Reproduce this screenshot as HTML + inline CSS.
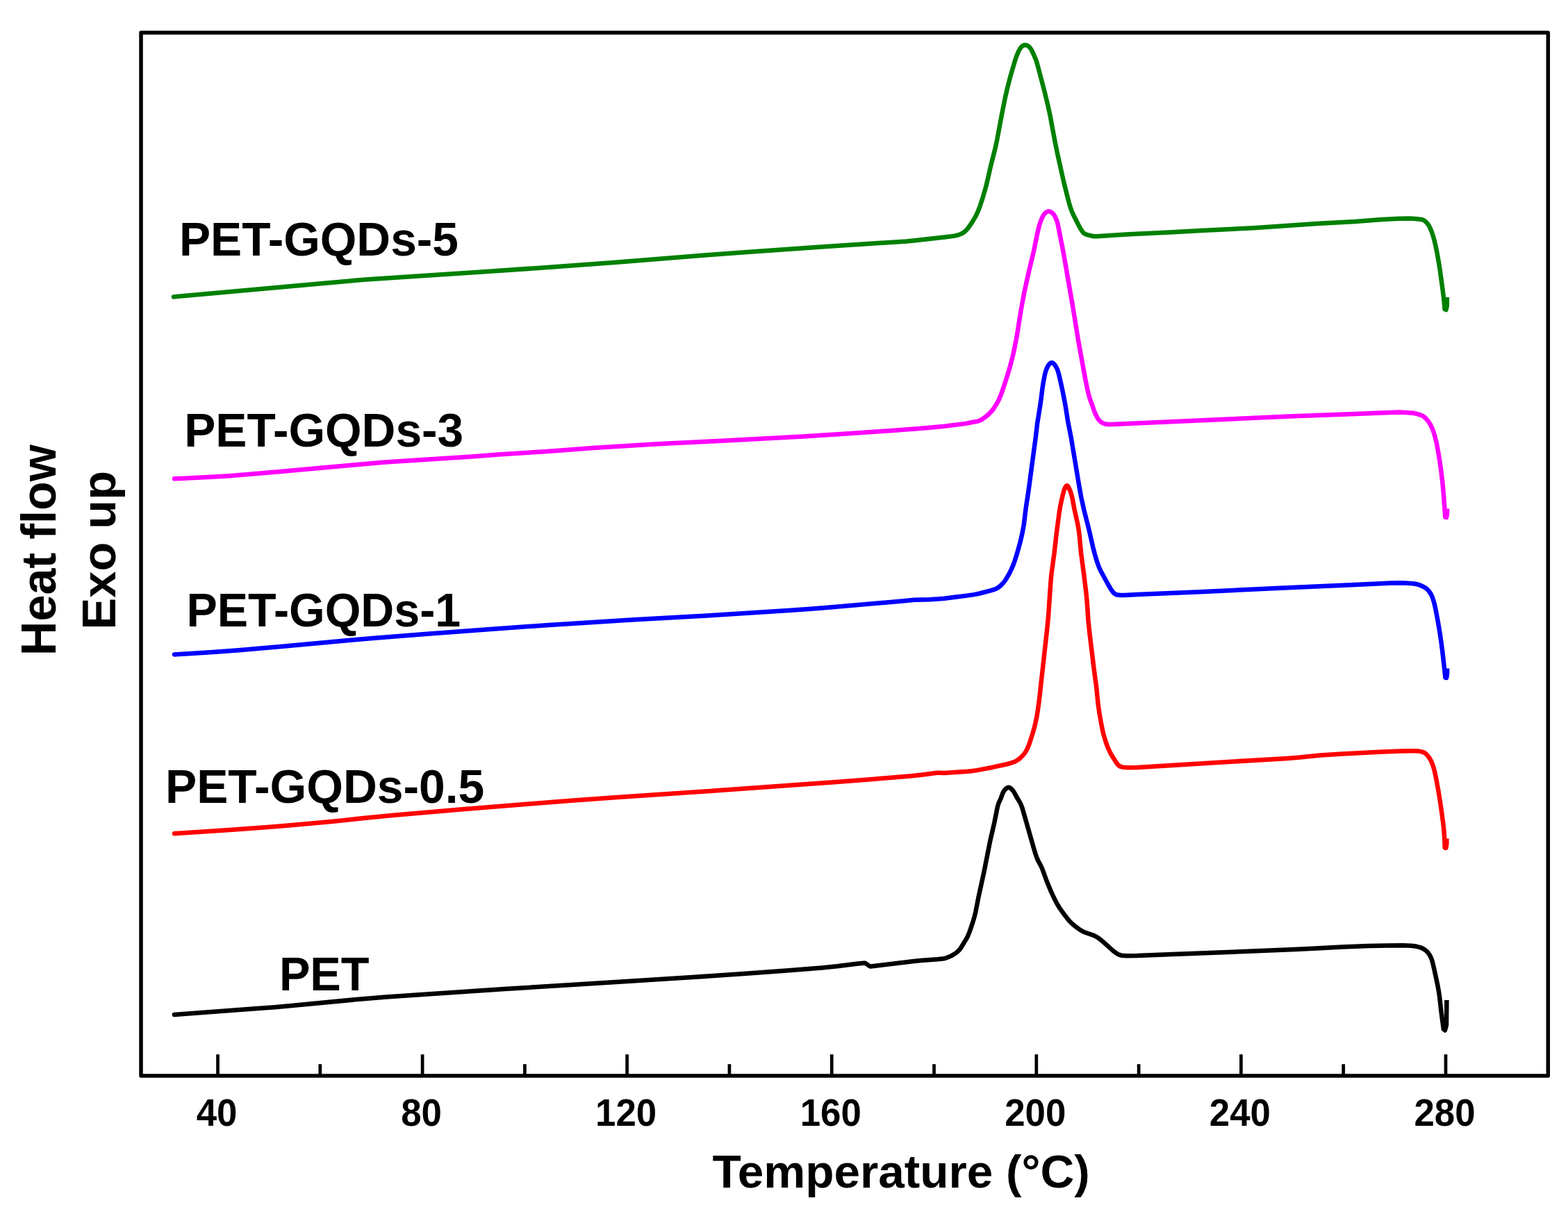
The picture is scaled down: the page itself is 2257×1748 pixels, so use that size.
<!DOCTYPE html>
<html><head><meta charset="utf-8"><title>DSC curves</title>
<style>
html,body{margin:0;padding:0;background:#fff;}
body{width:2257px;height:1748px;overflow:hidden;}
svg{display:block;}
text{font-family:"Liberation Sans",Arial,sans-serif;font-weight:bold;fill:#000;}
</style></head>
<body>
<svg xmlns="http://www.w3.org/2000/svg" width="2257" height="1748" viewBox="0 0 2257 1748">
<rect x="0" y="0" width="2257" height="1748" fill="#fff"/>
<g fill="none" stroke-width="6.5" stroke-linejoin="round" stroke-linecap="round">
<path d="M250.0,427.4 L464.6,407.9 L526.4,402.5 L697.0,391.3 L774.3,385.9 L886.5,377.7 L1017.1,367.3 L1074.9,362.9 L1185.2,355.2 L1304.9,347.5 L1312.4,346.8 L1323.8,345.6 L1361.6,341.2 L1374.0,339.6 L1378.9,338.5 L1383.5,336.8 L1385.7,335.6 L1387.4,334.5 L1389.3,332.9 L1391.1,331.2 L1394.6,326.9 L1399.1,320.3 L1404.4,311.3 L1407.6,304.5 L1410.7,296.6 L1414.9,283.7 L1419.3,268.4 L1421.2,260.6 L1425.8,240.1 L1432.6,213.4 L1435.3,200.7 L1442.2,163.9 L1446.6,141.8 L1450.4,125.3 L1454.7,108.8 L1461.6,85.3 L1463.9,79.2 L1466.2,73.7 L1468.4,69.7 L1470.2,67.4 L1471.3,66.4 L1472.6,65.6 L1474.0,65.1 L1475.4,64.8 L1477.3,65.1 L1479.6,66.1 L1481.6,67.6 L1483.2,69.5 L1484.8,72.0 L1486.6,75.6 L1490.8,85.2 L1491.8,88.0 L1494.1,96.2 L1503.3,131.0 L1508.3,151.4 L1511.6,166.6 L1518.9,205.9 L1522.8,224.5 L1531.1,261.6 L1536.4,282.9 L1538.8,292.1 L1540.5,297.9 L1542.1,302.6 L1544.0,307.2 L1546.2,311.7 L1553.7,326.4 L1555.4,329.5 L1558.4,334.0 L1559.8,335.5 L1561.0,336.3 L1562.8,337.2 L1565.1,338.1 L1572.9,340.0 L1575.3,340.3 L1579.3,340.2 L1621.2,337.4 L1683.7,334.6 L1729.1,332.0 L1804.5,328.2 L1895.3,322.1 L1950.7,319.1 L1986.1,316.2 L1999.1,315.4 L2015.1,314.8 L2028.6,314.6 L2037.1,314.9 L2046.0,315.9 L2047.4,316.3 L2048.8,316.8 L2051.7,318.8 L2054.5,321.7 L2056.8,324.9 L2058.8,328.9 L2060.7,333.5 L2062.8,339.7 L2064.9,347.4 L2066.5,354.2 L2068.3,363.0 L2070.8,376.8 L2072.4,386.7 L2075.2,407.0 L2077.5,424.4 L2078.7,434.8 L2079.5,445.0" stroke="#008000"/>
<path d="M2079.5,445.0 L2081.5,446.0 L2082.8,440.0 L2082.9,428.0" stroke="#008000" stroke-linecap="butt"/>
<path d="M251.0,689.3 L299.4,687.1 L329.9,685.2 L356.8,683.1 L403.6,679.0 L508.7,669.4 L554.0,665.5 L569.5,664.5 L678.3,657.6 L716.6,654.4 L787.5,649.9 L853.3,644.9 L893.7,642.4 L951.1,639.1 L1033.5,634.9 L1155.4,628.4 L1217.7,624.5 L1287.1,619.8 L1329.9,616.5 L1359.3,613.7 L1388.1,610.1 L1392.5,609.4 L1400.4,607.7 L1405.8,606.9 L1408.2,606.3 L1410.5,605.4 L1413.2,604.0 L1416.1,602.0 L1419.3,599.6 L1422.4,597.1 L1424.9,594.6 L1427.3,592.1 L1429.5,589.4 L1433.3,583.5 L1436.1,578.8 L1437.9,575.2 L1440.8,568.3 L1444.3,558.4 L1449.7,541.7 L1453.6,528.8 L1456.3,518.7 L1458.9,508.0 L1461.1,497.2 L1463.3,485.9 L1470.5,441.5 L1474.1,422.3 L1480.0,395.0 L1487.8,362.4 L1493.6,334.5 L1495.7,325.7 L1496.8,321.9 L1498.9,316.3 L1500.4,312.6 L1501.9,310.0 L1503.7,307.6 L1505.9,305.6 L1507.6,304.6 L1509.5,304.3 L1511.4,304.6 L1513.2,305.5 L1515.1,307.1 L1516.8,308.9 L1518.4,311.5 L1519.9,314.6 L1521.5,318.8 L1522.5,322.2 L1529.3,356.5 L1531.8,369.8 L1544.1,440.7 L1552.4,492.0 L1562.3,546.1 L1565.2,560.4 L1566.9,567.7 L1568.5,573.4 L1575.9,594.1 L1578.0,598.7 L1580.2,602.6 L1582.3,605.4 L1584.5,607.4 L1587.9,609.5 L1590.7,610.5 L1594.7,611.0 L1600.7,611.0 L1855.9,599.5 L1950.8,596.0 L1999.3,593.9 L2013.8,593.6 L2023.8,593.9 L2033.7,594.8 L2037.7,595.5 L2041.1,596.3 L2045.8,597.9 L2047.6,598.8 L2049.3,599.8 L2052.7,602.8 L2056.2,607.0 L2058.9,611.2 L2061.3,616.1 L2063.6,622.2 L2065.7,629.4 L2067.9,638.6 L2069.9,649.0 L2072.4,664.3 L2074.5,679.1 L2076.1,692.5 L2077.4,705.4 L2080.3,744.5" stroke="#ff00ff"/>
<path d="M2080.3,744.5 L2082.0,745.0 L2083.0,740.0 L2083.1,732.5" stroke="#ff00ff" stroke-linecap="butt"/>
<path d="M251.0,942.4 L305.9,939.0 L343.3,936.2 L406.6,930.8 L509.6,921.3 L539.0,918.7 L614.8,912.7 L702.0,906.2 L786.3,900.3 L869.1,894.9 L912.6,892.3 L1016.9,886.5 L1138.2,878.8 L1169.6,876.6 L1194.5,874.6 L1295.6,865.7 L1316.0,863.7 L1337.5,863.3 L1349.5,862.6 L1358.9,861.7 L1374.8,859.8 L1391.7,857.6 L1402.1,856.1 L1409.9,854.5 L1425.9,850.4 L1430.7,848.9 L1434.4,847.4 L1437.0,845.9 L1439.3,844.1 L1442.9,840.6 L1444.9,838.4 L1447.0,835.6 L1451.9,827.4 L1454.2,823.0 L1456.1,818.9 L1458.3,813.9 L1460.4,808.3 L1464.0,796.8 L1468.7,780.0 L1471.8,766.3 L1473.8,755.0 L1476.7,731.2 L1480.2,708.4 L1490.5,631.6 L1493.1,609.8 L1497.7,581.1 L1500.6,558.3 L1501.8,550.4 L1504.1,538.7 L1505.3,534.3 L1506.5,531.0 L1508.2,527.4 L1510.1,524.5 L1511.9,522.8 L1512.8,522.4 L1513.7,522.2 L1514.6,522.3 L1515.5,522.6 L1517.3,524.2 L1519.4,527.0 L1521.5,531.0 L1522.8,534.3 L1523.9,538.1 L1527.2,552.2 L1529.7,563.9 L1532.5,578.2 L1534.0,586.5 L1537.1,606.3 L1541.7,629.8 L1553.7,701.9 L1556.2,715.6 L1560.2,733.7 L1567.5,762.8 L1573.2,787.6 L1575.7,797.3 L1577.9,805.0 L1579.9,811.2 L1582.2,817.3 L1584.2,821.8 L1595.3,842.0 L1599.3,848.9 L1601.6,852.2 L1604.1,854.6 L1606.2,856.0 L1608.5,856.6 L1613.0,857.0 L1618.5,857.0 L1637.0,856.1 L1726.9,852.3 L1836.3,847.0 L1949.7,842.1 L2002.6,839.5 L2014.1,839.3 L2023.1,839.5 L2034.1,840.3 L2037.1,840.7 L2040.0,841.3 L2044.3,842.7 L2048.8,844.7 L2052.2,846.8 L2054.9,849.0 L2057.5,852.1 L2059.7,855.4 L2061.6,859.5 L2063.5,865.2 L2065.3,871.9 L2067.3,881.7 L2070.3,897.9 L2072.6,911.8 L2074.7,926.1 L2076.2,937.5 L2078.8,960.4 L2080.4,975.4" stroke="#0000ff"/>
<path d="M2080.4,975.4 L2082.0,976.0 L2083.0,971.0 L2083.1,962.5" stroke="#0000ff" stroke-linecap="butt"/>
<path d="M251.0,1200.2 L330.3,1195.1 L371.7,1192.1 L404.1,1189.6 L438.0,1186.6 L479.3,1182.7 L533.5,1176.9 L567.4,1173.7 L663.0,1165.5 L758.7,1157.7 L822.5,1152.8 L884.8,1148.3 L1028.5,1138.6 L1203.6,1126.0 L1255.4,1122.0 L1312.2,1117.2 L1326.1,1115.8 L1348.9,1112.8 L1351.9,1112.7 L1358.4,1112.9 L1362.9,1112.8 L1392.8,1110.7 L1399.8,1110.0 L1406.2,1109.1 L1429.3,1104.7 L1448.4,1100.5 L1454.2,1099.0 L1458.9,1097.4 L1461.7,1096.2 L1464.3,1094.7 L1466.7,1093.0 L1469.0,1091.0 L1471.8,1088.2 L1474.7,1084.7 L1476.4,1082.3 L1478.1,1079.2 L1479.8,1075.6 L1481.6,1071.0 L1486.1,1057.2 L1489.5,1045.1 L1492.2,1032.9 L1493.8,1023.1 L1496.0,1006.7 L1507.6,902.4 L1509.0,887.4 L1512.2,840.5 L1513.3,827.6 L1517.6,795.9 L1520.8,767.6 L1522.8,752.2 L1524.6,738.8 L1526.1,729.4 L1527.6,722.1 L1530.0,711.8 L1531.4,706.5 L1532.9,702.8 L1534.3,700.2 L1534.9,699.6 L1535.7,699.3 L1536.4,699.4 L1537.1,700.0 L1538.4,702.1 L1540.6,707.1 L1542.4,712.8 L1543.7,718.2 L1546.5,733.4 L1551.1,753.9 L1552.9,764.3 L1553.9,772.7 L1556.1,796.6 L1560.3,827.8 L1563.7,856.1 L1564.7,867.1 L1566.5,893.5 L1568.4,911.9 L1574.6,963.0 L1578.1,988.8 L1580.6,1013.7 L1582.5,1027.0 L1585.2,1042.3 L1586.9,1051.1 L1589.0,1059.4 L1591.9,1068.9 L1594.7,1076.4 L1597.2,1081.9 L1600.0,1087.2 L1607.5,1099.0 L1609.3,1101.4 L1610.9,1102.6 L1612.6,1103.6 L1615.0,1104.4 L1617.4,1104.8 L1620.4,1105.1 L1624.4,1105.2 L1637.4,1105.0 L1666.3,1103.3 L1743.2,1098.4 L1853.0,1092.0 L1870.9,1090.6 L1900.3,1087.5 L1931.7,1085.5 L1990.1,1082.5 L2016.1,1081.5 L2029.6,1081.2 L2036.6,1081.3 L2042.1,1081.6 L2046.5,1082.4 L2049.8,1083.6 L2052.3,1085.2 L2055.0,1088.1 L2057.7,1091.7 L2059.9,1095.6 L2061.7,1099.8 L2063.3,1104.5 L2064.9,1110.3 L2067.3,1121.5 L2070.6,1139.7 L2072.9,1154.0 L2075.5,1171.9 L2077.4,1186.7 L2078.6,1198.2 L2079.2,1207.1 L2079.7,1220.5" stroke="#ff0000"/>
<path d="M2079.7,1220.5 L2081.3,1221.0 L2082.3,1216.0 L2082.4,1207.5" stroke="#ff0000" stroke-linecap="butt"/>
<path d="M251.0,1461.0 L364.2,1452.6 L395.6,1450.2 L420.0,1448.0 L517.1,1438.7 L555.9,1435.5 L614.8,1431.4 L730.0,1423.8 L886.7,1413.9 L1001.0,1406.8 L1070.8,1402.0 L1135.7,1397.3 L1183.0,1393.4 L1204.9,1391.2 L1234.7,1387.5 L1243.1,1386.7 L1244.5,1386.6 L1245.6,1386.9 L1251.8,1391.1 L1252.4,1391.4 L1253.5,1391.5 L1315.5,1384.0 L1325.0,1383.1 L1349.4,1381.3 L1356.4,1380.6 L1360.8,1379.7 L1363.6,1378.7 L1366.4,1377.6 L1369.6,1376.1 L1372.6,1374.4 L1376.8,1371.6 L1378.6,1370.0 L1380.4,1368.2 L1382.0,1366.3 L1383.7,1363.8 L1391.0,1351.9 L1393.3,1347.4 L1395.7,1341.4 L1398.3,1333.9 L1400.8,1326.2 L1403.0,1318.6 L1404.4,1312.7 L1408.6,1291.1 L1416.4,1255.5 L1424.9,1212.3 L1431.2,1185.0 L1435.0,1165.9 L1436.3,1160.0 L1437.7,1155.8 L1440.5,1149.9 L1443.2,1142.4 L1444.8,1139.3 L1446.6,1136.9 L1448.4,1135.2 L1450.1,1134.1 L1451.0,1133.9 L1451.9,1133.8 L1453.3,1134.1 L1455.0,1135.2 L1456.8,1136.9 L1458.7,1139.2 L1460.5,1142.2 L1464.8,1150.1 L1468.0,1155.2 L1469.5,1158.3 L1471.3,1163.0 L1473.3,1169.7 L1488.4,1222.6 L1490.4,1229.3 L1492.0,1234.0 L1494.2,1239.1 L1498.4,1247.0 L1500.1,1250.7 L1506.4,1268.0 L1510.2,1277.3 L1513.1,1284.2 L1516.5,1291.5 L1519.9,1298.2 L1522.5,1303.0 L1525.1,1307.3 L1532.7,1317.8 L1537.9,1324.5 L1542.0,1328.9 L1546.5,1332.8 L1553.7,1338.2 L1558.4,1341.1 L1561.6,1342.5 L1574.4,1346.9 L1577.1,1348.2 L1579.6,1349.7 L1583.3,1352.4 L1587.6,1355.8 L1602.4,1369.2 L1605.6,1371.6 L1608.5,1373.5 L1610.8,1374.6 L1612.6,1375.3 L1614.6,1375.7 L1617.1,1376.1 L1621.1,1376.2 L1637.6,1376.0 L1675.5,1374.6 L1863.9,1367.0 L1894.3,1365.6 L1931.8,1363.5 L1970.3,1362.0 L1996.7,1361.4 L2018.7,1361.3 L2031.2,1361.7 L2035.7,1362.2 L2039.1,1362.8 L2044.0,1364.1 L2046.8,1365.1 L2050.7,1367.4 L2053.5,1369.5 L2055.5,1371.7 L2058.0,1375.4 L2059.8,1379.0 L2061.2,1382.7 L2062.5,1387.5 L2064.1,1394.3 L2069.2,1417.8 L2070.8,1426.6 L2072.1,1435.1 L2074.4,1455.9 L2077.8,1481.6" stroke="#000000"/>
<path d="M2077.8,1481.6 L2080.0,1483.5 L2082.0,1476.0 L2082.4,1440.0" stroke="#000000" stroke-linecap="butt"/>
</g>
<g stroke="#000" stroke-width="4.7" stroke-linecap="butt">
<line x1="313.5" y1="1518.2" x2="313.5" y2="1549.0"/>
<line x1="460.8" y1="1532.2" x2="460.8" y2="1549.0"/>
<line x1="608.1" y1="1518.2" x2="608.1" y2="1549.0"/>
<line x1="755.4" y1="1532.2" x2="755.4" y2="1549.0"/>
<line x1="902.6" y1="1518.2" x2="902.6" y2="1549.0"/>
<line x1="1049.9" y1="1532.2" x2="1049.9" y2="1549.0"/>
<line x1="1197.2" y1="1518.2" x2="1197.2" y2="1549.0"/>
<line x1="1344.5" y1="1532.2" x2="1344.5" y2="1549.0"/>
<line x1="1491.8" y1="1518.2" x2="1491.8" y2="1549.0"/>
<line x1="1639.1" y1="1532.2" x2="1639.1" y2="1549.0"/>
<line x1="1786.4" y1="1518.2" x2="1786.4" y2="1549.0"/>
<line x1="1933.7" y1="1532.2" x2="1933.7" y2="1549.0"/>
<line x1="2081.0" y1="1518.2" x2="2081.0" y2="1549.0"/>
</g>
<rect x="203" y="47" width="2025.3000000000002" height="1502" fill="none" stroke="#000" stroke-width="5.5" stroke-linejoin="round"/>
<g font-size="54.9">
<text transform="translate(312.0,1620.65) scale(0.962,1)" text-anchor="middle">40</text>
<text transform="translate(606.6,1620.65) scale(0.962,1)" text-anchor="middle">80</text>
<text transform="translate(901.1,1620.65) scale(0.962,1)" text-anchor="middle">120</text>
<text transform="translate(1195.7,1620.65) scale(0.962,1)" text-anchor="middle">160</text>
<text transform="translate(1490.3,1620.65) scale(0.962,1)" text-anchor="middle">200</text>
<text transform="translate(1784.9,1620.65) scale(0.962,1)" text-anchor="middle">240</text>
<text transform="translate(2079.5,1620.65) scale(0.962,1)" text-anchor="middle">280</text>
</g>
<text transform="translate(1025.4,1709.6) scale(1.014,1)" font-size="66.6">Temperature (&#176;C)</text>
<g font-size="68.93">
<text transform="translate(258.0,367.6) scale(0.9807,1)">PET-GQDs-5</text>
<text transform="translate(265.3,643.0) scale(0.9804,1)">PET-GQDs-3</text>
<text transform="translate(268.5,901.7) scale(0.9633,1)">PET-GQDs-1</text>
<text transform="translate(238.0,1156.3) scale(0.9829,1)">PET-GQDs-0.5</text>
<text transform="translate(401.9,1425.9) scale(0.9674,1)">PET</text>
</g>
<text transform="translate(79.6,944.0) rotate(-90) scale(0.9775,1)" font-size="70">Heat flow</text>
<text transform="translate(165.5,906.5) rotate(-90)" font-size="68.6">Exo up</text>
</svg>
</body></html>
